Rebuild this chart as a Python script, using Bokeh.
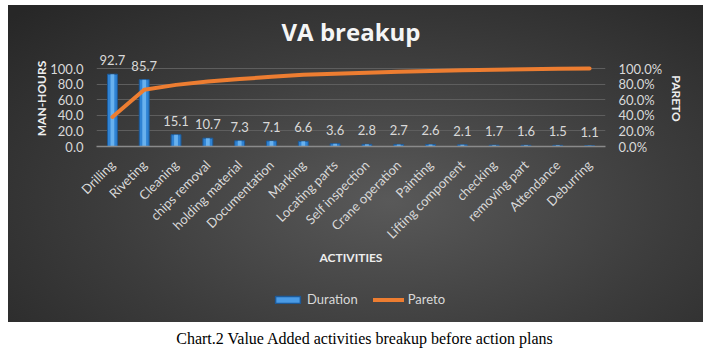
from bokeh.plotting import figure
from bokeh.models import (FactorRange, Range1d, LinearAxis, ColumnDataSource, Legend,
                          LegendItem, FixedTicker, PrintfTickFormatter, Div)
from bokeh.layouts import column
from bokeh.embed import file_html
from bokeh.resources import INLINE
from bokeh.core.properties import value

activities = ["Drilling", "Riveting", "Cleaning", "chips removal", "holding material",
              "Documentation", "Marking", "Locating parts", "Self inspection",
              "Crane operation", "Painting", "Lifting component", "checking",
              "removing part", "Attendance", "Deburring"]
duration = [92.7, 85.7, 15.1, 10.7, 7.3, 7.1, 6.6, 3.6, 2.8, 2.7, 2.6, 2.1, 1.7, 1.6, 1.5, 1.1]
pareto = [37.9, 72.8, 79.0, 83.4, 86.4, 89.3, 92.0, 93.4, 94.6, 95.7, 96.7, 97.6, 98.3, 98.9, 99.6, 100.0]
duration_labels = ["92.7", "85.7", "15.1", "10.7", "7.3", "7.1", "6.6", "3.6", "2.8", "2.7",
                   "2.6", "2.1", "1.7", "1.6", "1.5", "1.1"]
y_ticks = [0, 20, 40, 60, 80, 100]
series_names = ["Duration", "Pareto"]

FONT = "Lato"
TXT = "#d9d9d9"
BAR_FILL = "#2f83d4"
BAR_LINE = "#1d5a99"
LINE_COL = "#ed7d31"

src = ColumnDataSource(dict(act=activities, dur=duration, par=pareto, lab=duration_labels))

p = figure(x_range=FactorRange(*activities), y_range=Range1d(0, 123.08),
           width=695, height=280, output_backend="svg", toolbar_location=None,
           min_border_left=88, min_border_right=98, min_border_top=45, min_border_bottom=139,
           border_fill_color=None, background_fill_color=None, outline_line_color=None)

p.extra_y_ranges = {"pct": Range1d(0, 123.08)}

# title
p.title.text = "VA breakup"
p.title.align = "center"
p.title.text_font = "Open Sans"
p.title.text_font_size = "24px"
p.title.text_font_style = "bold"
p.title.text_color = "#f5f5f5"
p.title.standoff = 6

# bars
bars = p.vbar(x="act", top="dur", width=0.31, source=src, fill_color=BAR_FILL,
              line_color=BAR_LINE, line_width=1)
hl = p.vbar(x="act", top="dur", width=0.12, source=src, fill_color="#7cc0f7",
            line_color=None, fill_alpha=0.75)
line = p.line(x="act", y="par", source=src, y_range_name="pct", line_color=LINE_COL,
              line_width=4, line_cap="round", line_join="round")
p.text(x="act", y="dur", text="lab", source=src, text_align="center", text_baseline="bottom",
       y_offset=-9, text_color=TXT, text_font=value(FONT), text_font_size="13px")

# grid
p.xgrid.grid_line_color = None
p.ygrid.grid_line_color = "#5e5e5e"
p.ygrid.grid_line_width = 1
p.ygrid.ticker = FixedTicker(ticks=y_ticks)

# left axis
ya = p.yaxis[0]
ya.ticker = FixedTicker(ticks=y_ticks)
ya.formatter = PrintfTickFormatter(format="%.1f")
ya.axis_line_color = None
ya.major_tick_line_color = None
ya.minor_tick_line_color = None
ya.major_tick_out = 0
ya.major_tick_in = 0
ya.minor_tick_out = 0
ya.major_label_standoff = 13
ya.major_label_text_color = TXT
ya.major_label_text_font = FONT
ya.major_label_text_font_size = "13px"
ya.axis_label = "MAN-HOURS"
ya.axis_label_text_font = FONT
ya.axis_label_text_font_size = "12px"
ya.axis_label_text_font_style = "bold"
ya.axis_label_text_color = "#eeeeee"
ya.axis_label_standoff = -2

# right axis
ra = LinearAxis(y_range_name="pct", ticker=FixedTicker(ticks=y_ticks),
                formatter=PrintfTickFormatter(format="%.1f%%"))
ra.axis_line_color = None
ra.major_tick_line_color = None
ra.minor_tick_line_color = None
ra.major_tick_out = 0
ra.major_tick_in = 0
ra.minor_tick_out = 0
ra.major_label_standoff = 13
ra.major_label_text_color = TXT
ra.major_label_text_font = FONT
ra.major_label_text_font_size = "13px"
ra.axis_label = "PARETO"
ra.axis_label_text_font = FONT
ra.axis_label_text_font_size = "12px"
ra.axis_label_text_font_style = "bold"
ra.axis_label_text_color = "#eeeeee"
ra.axis_label_standoff = 4
p.add_layout(ra, "right")

# x axis
xa = p.xaxis[0]
xa.axis_line_color = "#8a8a8a"
xa.axis_line_width = 1.5
xa.major_tick_line_color = None
xa.minor_tick_line_color = None
xa.major_tick_out = 0
xa.major_tick_in = 0
xa.minor_tick_out = 0
xa.major_label_orientation = 0.785398
xa.major_label_standoff = 16
xa.major_label_text_color = TXT
xa.major_label_text_font = FONT
xa.major_label_text_font_size = "13px"
xa.axis_label = "ACTIVITIES"
xa.axis_label_text_font = FONT
xa.axis_label_text_font_size = "12px"
xa.axis_label_text_font_style = "bold"
xa.axis_label_text_color = "#eeeeee"
xa.axis_label_standoff = 0

# legend strip (separate figure sharing the same background; swatch glyphs kept off-view)
lg = figure(width=695, height=37, output_backend="svg", toolbar_location=None,
            x_range=Range1d(0, 1), y_range=Range1d(0, 1),
            x_axis_location=None, y_axis_location=None,
            min_border_left=0, min_border_right=0, min_border_top=0, min_border_bottom=0,
            border_fill_color=None, background_fill_color=None, outline_line_color=None)
lg.grid.visible = False
lb = lg.vbar(x=[-5], top=[-5], width=0.3, fill_color="#4a9be6", line_color=BAR_LINE, line_width=1.5)
ll = lg.line(x=[-5, -4], y=[-5, -4], line_color=LINE_COL, line_width=4, line_cap="round")
legend = Legend(items=[LegendItem(label=series_names[0], renderers=[lb]),
                       LegendItem(label=series_names[1], renderers=[ll])],
                orientation="horizontal", location=(176, 15),
                border_line_color=None, background_fill_color=None, background_fill_alpha=0,
                label_text_color=TXT, label_text_font=FONT, label_text_font_size="13px",
                glyph_width=31, glyph_height=9, label_standoff=4, spacing=15,
                padding=0, margin=0)
lg.add_layout(legend, "center")

chart = column(p, lg, spacing=0,
               styles={"background": "radial-gradient(ellipse 75% 85% at 55% 62%, #595959 0%, #3c3c3c 55%, #272727 100%)",
                       "margin-left": "8px", "margin-top": "5px"})

caption = Div(text="Chart.2 Value Added activities breakup before action plans",
              width=689,
              styles={"text-align": "center", "font-family": "Liberation Serif, Times New Roman, serif",
                      "font-size": "16px", "color": "#000000", "margin-left": "20px", "margin-top": "6px"})

layout = column(chart, caption)
open("out.html", "w").write(file_html(layout, INLINE))
